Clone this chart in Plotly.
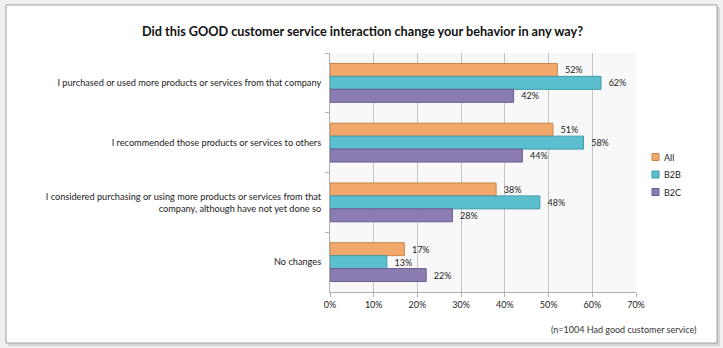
import plotly.graph_objects as go

# Survey responses: share of respondents per behaviour change
categories = [
    "I purchased or used more products or services from that company",
    "I recommended those products or services to others",
    "I considered purchasing or using more products or services from that<br>company, although have not yet done so",
    "No changes",
]
series_names = ["All", "B2B", "B2C"]
all_vals = [52, 51, 38, 17]
b2b_vals = [62, 58, 48, 13]
b2c_vals = [42, 44, 28, 22]
x_ticks = [0, 10, 20, 30, 40, 50, 60, 70]

colors = ["#f1a86a", "#5cbfd0", "#8b7db2"]
edges = ["#c98544", "#3b9bab", "#6a5c90"]
values = [all_vals, b2b_vals, b2c_vals]

W, H = 723, 348
L, R, T, B = 330, 87, 53, 56
pw, ph = W - L - R, H - T - B


def px(x):
    return (x - L) / pw


def py(y):
    return (H - B - y) / ph


font_family = "Lato, Liberation Sans, sans-serif"

fig = go.Figure()
for name, vals, c, e in zip(series_names, values, colors, edges):
    fig.add_trace(go.Bar(
        name=name, y=categories, x=vals, orientation="h",
        marker=dict(color=c, line=dict(color=e, width=1)),
        text=[f"\u00a0\u00a0{v}%" for v in vals], textposition="outside",
        textfont=dict(size=9, color="#222222", family=font_family),
        cliponaxis=False, showlegend=False,
    ))

shapes = [
    # drop shadow and chart frame
    dict(type="rect", xref="paper", yref="paper",
         x0=px(8), x1=px(720), y0=py(346), y1=py(7),
         fillcolor="#d6d6d6", line=dict(width=0), layer="below"),
    dict(type="rect", xref="paper", yref="paper",
         x0=px(6), x1=px(717), y0=py(343), y1=py(5),
         fillcolor="#ffffff", line=dict(color="#a0a0a0", width=1), layer="below"),
    # plot area background
    dict(type="rect", xref="paper", yref="paper",
         x0=0, x1=1, y0=0, y1=1,
         fillcolor="#f8f8f8", line=dict(width=0), layer="below"),
]

annotations = [
    dict(text="<b>Did this GOOD customer service interaction change your behavior in any way?</b>",
         xref="paper", yref="paper", x=px(362), y=py(31), showarrow=False,
         xanchor="center", yanchor="middle",
         font=dict(size=12.7, color="#111111", family=font_family)),
    dict(text="(n=1004 Had good customer service)",
         xref="paper", yref="paper", x=px(698), y=py(329), showarrow=False,
         xanchor="right", yanchor="middle",
         font=dict(size=9, color="#333333", family=font_family)),
]

# legend entries
for i, (name, c, e) in enumerate(zip(series_names, colors, edges)):
    yc = 157 + i * 17.5
    shapes.append(dict(type="rect", xref="paper", yref="paper",
                       x0=px(652), x1=px(659), y0=py(yc + 3.5), y1=py(yc - 3.5),
                       fillcolor=c, line=dict(color=e, width=1)))
    annotations.append(dict(text=name, xref="paper", yref="paper",
                            x=px(662), y=py(yc), showarrow=False,
                            xanchor="left", yanchor="middle",
                            font=dict(size=9, color="#222222", family=font_family)))

fig.update_layout(
    width=W, height=H,
    margin=dict(l=L, r=R, t=T, b=B),
    barmode="group", bargap=0.35, bargroupgap=0,
    paper_bgcolor="#f0f0f0", plot_bgcolor="rgba(0,0,0,0)",
    font=dict(family=font_family, size=9, color="#222222"),
    shapes=shapes, annotations=annotations,
    xaxis=dict(range=[0, 70], tickvals=x_ticks,
               ticktext=[f"{t}%" for t in x_ticks],
               showgrid=True, gridcolor="#c4c4c4", gridwidth=1,
               zeroline=False, showline=True, linecolor="#b0b0b0",
               ticks="outside", ticklen=4, tickcolor="#b0b0b0",
               tickfont=dict(size=9, color="#222222")),
    yaxis=dict(autorange="reversed", showline=True, linecolor="#b0b0b0",
               ticks="outside", tickson="boundaries", ticklen=4,
               tickcolor="#b0b0b0", showgrid=False, ticklabelstandoff=6,
               tickfont=dict(size=9.2, color="#222222")),
)

fig.write_html("out.html")
